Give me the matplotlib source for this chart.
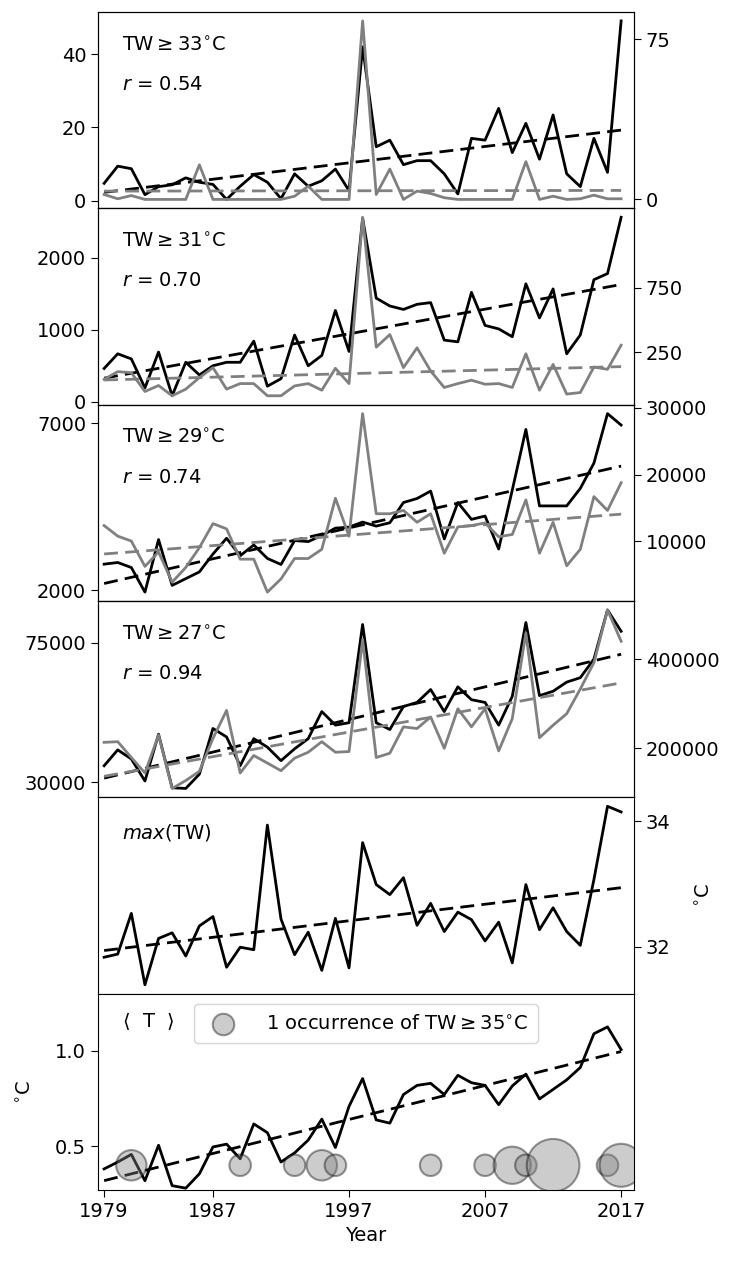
import numpy as np
import matplotlib
matplotlib.use('Agg')
import matplotlib.pyplot as plt

years = np.arange(1979, 2018)

# TW >= 33 C
tw33_black = [4.7, 9.4, 8.7, 1.6, 3.8, 4.3, 6.2, 5.0, 4.4, 0.3, 3.9, 7.1, 5.0, 0.5, 7.3,
              3.9, 5.4, 8.6, 2.7, 42.0, 14.7, 16.5, 9.8, 10.9, 10.9, 7.3, 1.8, 17.0,
              16.5, 25.2, 13.1, 21.1, 11.3, 23.4, 7.3, 3.8, 17.0, 7.7, 49.1]
tw33_gray = [2.3, 0.3, 1.8, 0, 0, 0, 0, 16.2, 0, 0, 0, 0, 0, 0, 1.5, 6.2, 0, 0, 0,
             83.5, 2.3, 14.2, 0, 3.9, 2.8, 0.8, 0, 0, 0, 0, 0, 17.7, 0, 1.5, 0, 0.3,
             2.0, 0.3, 0.3]

# TW >= 31 C
tw31_black = [464, 668, 597, 194, 692, 85, 550, 374, 502, 550, 550, 844, 218, 322, 929,
              502, 645, 1270, 701, 2550, 1441, 1332, 1284, 1355, 1379, 858, 834, 1521,
              1062, 1014, 905, 1640, 1166, 1569, 668, 929, 1697, 1782, 2564]
tw31_gray = [43, 102, 94, -51, -5, -84, -33, 56, 133, -33, 10, 10, -84, -84, -8, 10,
             -41, 128, 10, 1293, 291, 388, 133, 286, 107, -20, 10, 36, 5, 10, -20, 240,
             -41, 158, -71, -59, 138, 120, 306]

# TW >= 29 C
tw29_black = [2785, 2835, 2684, 1950, 3519, 2151, 2352, 2553, 3087, 3559, 3036, 3358,
              2956, 2775, 3489, 3459, 3640, 3861, 3891, 4042, 3922, 4022, 4626, 4746,
              4968, 3539, 4626, 4123, 4223, 3237, 4998, 6809, 4525, 4525, 4525, 5048,
              5803, 7282, 6940]
tw29_gray = [12365, 10788, 10049, 6256, 8424, 3892, 6108, 9064, 12660, 11872, 7340,
             7340, 2414, 4384, 7438, 7438, 8818, 16453, 10788, 29113, 14138, 14138,
             14631, 12857, 14138, 8227, 12167, 12365, 12759, 10690, 11034, 16207, 8227,
             12857, 6355, 8818, 16700, 14631, 18768]

# TW >= 27 C
tw27_black = [35256, 40402, 37445, 30328, 45438, 28139, 27920, 32518, 47300, 44563,
              35256, 44015, 41278, 36898, 40730, 44015, 52775, 48395, 49161, 80914,
              49161, 46971, 54417, 55731, 59892, 52775, 60768, 56607, 55731, 48395,
              57702, 81571, 57921, 59344, 62300, 63724, 69746, 85623, 78723]
tw27_gray = [213333, 214815, 179259, 144444, 229630, 109630, 127407, 148148, 222222,
             285185, 144444, 183704, 166667, 149630, 177778, 191111, 214815, 191111,
             192593, 444444, 179259, 188889, 248148, 244444, 270370, 200000, 288889,
             248148, 288889, 194074, 266667, 459259, 223704, 251852, 277778, 333333,
             392593, 511111, 440741]

# max(TW), deg C
max_tw = [31.83, 31.88, 32.53, 31.39, 32.13, 32.22, 31.85, 32.33, 32.48, 31.67, 31.99,
          31.95, 33.94, 32.44, 31.87, 32.23, 31.62, 32.45, 31.66, 33.66, 32.99, 32.83,
          33.10, 32.34, 32.69, 32.24, 32.55, 32.43, 32.09, 32.39, 31.74, 32.99, 32.27,
          32.62, 32.24, 32.02, 33.07, 34.24, 34.15]

# <T>, deg C
mean_t = [0.381, 0.417, 0.457, 0.319, 0.505, 0.293, 0.280, 0.355, 0.496, 0.511, 0.434,
          0.617, 0.571, 0.417, 0.465, 0.532, 0.642, 0.493, 0.709, 0.855, 0.638, 0.621,
          0.771, 0.819, 0.830, 0.771, 0.872, 0.833, 0.819, 0.718, 0.816, 0.878, 0.748,
          0.798, 0.848, 0.913, 1.090, 1.126, 1.007]

# occurrences of TW >= 35 C
occ_years = [1981, 1989, 1993, 1995, 1996, 2003, 2007, 2009, 2010, 2012, 2016, 2017]
occ_counts = [2, 1, 1, 2, 1, 1, 1, 3, 1, 6, 1, 4]

thresholds = [33, 31, 29, 27]
r_values = [0.54, 0.70, 0.74, 0.94]
left_ticks = [[0, 20, 40], [0, 1000, 2000], [2000, 7000], [30000, 75000]]
right_ticks = [[0, 75], [250, 750], [10000, 20000, 30000], [200000, 400000]]
blacks = [tw33_black, tw31_black, tw29_black, tw27_black]
grays = [tw33_gray, tw31_gray, tw29_gray, tw27_gray]

FS = 14
LW = 2.0
DASH = (5, 2.6)


def trend(y):
    c = np.polyfit(years, y, 1)
    return np.polyval(c, years)


fig = plt.figure(figsize=(7.33, 12.64), dpi=100)
axes = fig.subplots(6, 1, sharex=True)
fig.subplots_adjust(left=0.1337, right=0.865, top=0.9905, bottom=0.0585, hspace=0)

for k in range(4):
    ax = axes[k]
    ax2 = ax.twinx()
    ax.plot(years, blacks[k], color='black', lw=LW)
    ax.plot(years, trend(blacks[k]), color='black', lw=LW, dashes=DASH)
    ax2.plot(years, grays[k], color='gray', lw=LW)
    ax2.plot(years, trend(grays[k]), color='gray', lw=LW, dashes=DASH)
    ax.set_yticks(left_ticks[k])
    ax2.set_yticks(right_ticks[k])
    ax.tick_params(labelsize=FS, length=5)
    ax2.tick_params(labelsize=FS, length=5)
    ax.tick_params(axis='x', bottom=False)
    ax.text(0.045, 0.83, r'TW$\geq$%d$^{\circ}$C' % thresholds[k], transform=ax.transAxes,
            fontsize=FS, va='center', ha='left')
    ax.text(0.045, 0.63, r'$r$ = %.2f' % r_values[k], transform=ax.transAxes,
            fontsize=FS, va='center', ha='left')

# max(TW)
ax = axes[4]
ax.plot(years, max_tw, color='black', lw=LW)
ax.plot(years, trend(max_tw), color='black', lw=LW, dashes=DASH)
ax.yaxis.tick_right()
ax.yaxis.set_label_position('right')
ax.set_yticks([32, 34])
ax.set_ylabel(r'$^{\circ}$C', fontsize=FS, labelpad=18)
ax.tick_params(labelsize=FS, length=5)
ax.tick_params(axis='x', bottom=False)
ax.text(0.045, 0.82, r'$max$(TW)', transform=ax.transAxes, fontsize=FS,
        va='center', ha='left')

# <T>
ax = axes[5]
ax.plot(years, mean_t, color='black', lw=LW)
ax.plot(years, trend(mean_t), color='black', lw=LW, dashes=DASH)
unit_s = 240
ax.scatter(occ_years, [0.4] * len(occ_years), s=[unit_s * c for c in occ_counts],
           facecolor='gray', edgecolor='black', alpha=0.4, lw=1.5, zorder=4)
ax.scatter([], [], s=unit_s, facecolor='gray', edgecolor='black', alpha=0.4, lw=1.5,
           label=r'1 occurrence of TW$\geq$35$^{\circ}$C')
ax.legend(loc='upper center', fontsize=FS, scatterpoints=1, borderpad=0.5,
          handletextpad=1.2, bbox_to_anchor=(0.5, 0.995))
ax.set_ylim(0.27, 1.3)
ax.set_yticks([0.5, 1.0])
ax.set_ylabel(r'$^{\circ}$C', fontsize=FS, labelpad=14)
ax.text(0.045, 0.86, r'$\langle$  T  $\rangle$', transform=ax.transAxes, fontsize=FS,
        va='center', ha='left')
ax.tick_params(labelsize=FS, length=5)
ax.set_xlim(1978.55, 2017.95)
ax.set_xticks([1979, 1987, 1997, 2007, 2017])
ax.set_xlabel('Year', fontsize=FS)

fig.savefig('out.png', dpi=100)
